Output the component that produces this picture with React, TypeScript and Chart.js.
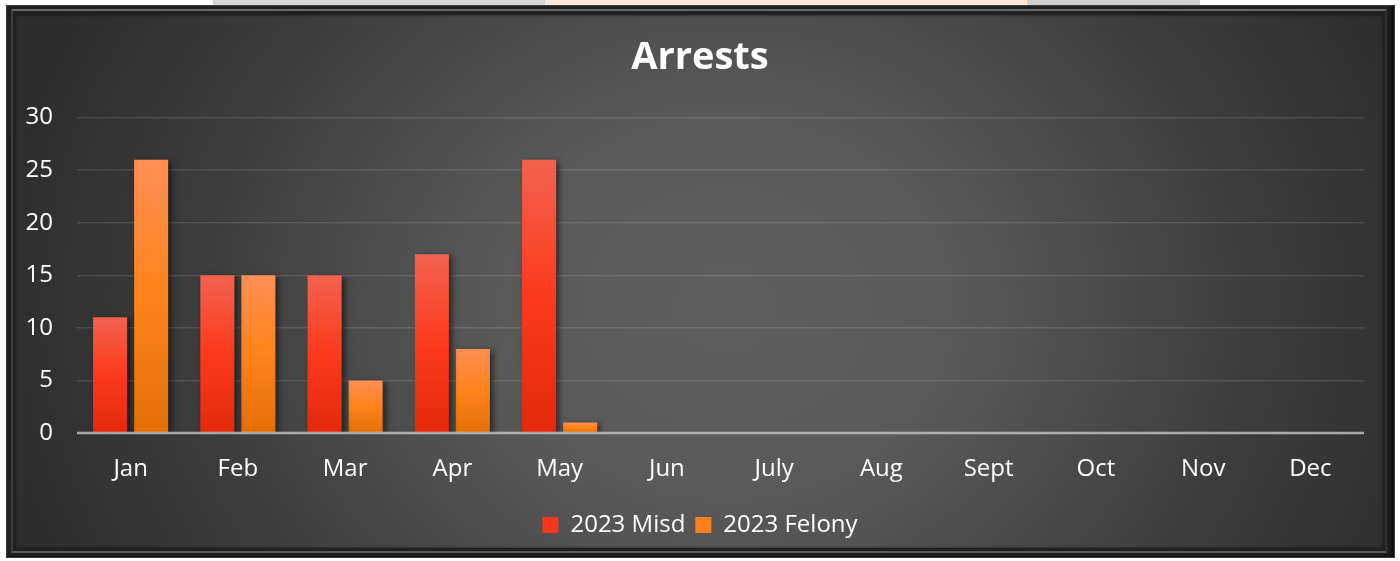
import React, { useEffect, useRef } from "react";
import { Chart, registerables } from "chart.js";

Chart.register(...registerables);

const categories = ["Jan", "Feb", "Mar", "Apr", "May", "Jun", "July", "Aug", "Sept", "Oct", "Nov", "Dec"];
const misdValues = [11, 15, 15, 17, 26, null, null, null, null, null, null, null];
const felonyValues = [26, 15, 5, 8, 1, null, null, null, null, null, null, null];
const seriesLabels = ["2023 Misd", "2023 Felony"];
const chartTitle = "Arrests";
const yMin = 0;
const yMax = 30;
const yStep = 5;

const FONT = "'Open Sans', sans-serif";
const misdStops = ["#f3624f", "#fc3a1c", "#e32a0b"];
const felonyStops = ["#ff8f55", "#ff8319", "#e36e08"];

function barGradient(stops: string[]) {
  return (ctx: any) => {
    const chart = ctx.chart;
    const y = chart.scales && chart.scales.y;
    if (!y || ctx.type !== "data" || !ctx.parsed || ctx.parsed.y == null) return stops[1];
    const top = y.getPixelForValue(ctx.parsed.y);
    const bottom = y.getPixelForValue(0);
    if (!isFinite(top) || !isFinite(bottom) || Math.abs(bottom - top) < 1) return stops[1];
    const g = chart.ctx.createLinearGradient(0, top, 0, bottom);
    g.addColorStop(0, stops[0]);
    g.addColorStop(0.5, stops[1]);
    g.addColorStop(1, stops[2]);
    return g;
  };
}

const shadowPlugin = {
  id: "barShadowAndZero",
  beforeDatasetsDraw(chart: any) {
    const c = chart.ctx;
    c.save();
    c.shadowColor = "rgba(0,0,0,0.55)";
    c.shadowBlur = 6;
    c.shadowOffsetX = 3;
    c.shadowOffsetY = 2;
  },
  afterDatasetsDraw(chart: any) {
    const c = chart.ctx;
    c.restore();
    const { chartArea, scales } = chart;
    const py = scales.y.getPixelForValue(0);
    c.save();
    c.strokeStyle = "rgba(205,205,205,0.75)";
    c.lineWidth = 2.5;
    c.beginPath();
    c.moveTo(chartArea.left, py);
    c.lineTo(chartArea.right, py);
    c.stroke();
    c.restore();
  },
};

export default function App() {
  const ref = useRef<HTMLCanvasElement>(null);

  useEffect(() => {
    if (!ref.current) return;
    const chart = new Chart(ref.current, {
      type: "bar",
      data: {
        labels: categories,
        datasets: [
          {
            label: seriesLabels[0],
            data: misdValues as any,
            backgroundColor: barGradient(misdStops) as any,
            borderWidth: 0,
            categoryPercentage: 0.765,
            barPercentage: 0.83,
          },
          {
            label: seriesLabels[1],
            data: felonyValues as any,
            backgroundColor: barGradient(felonyStops) as any,
            borderWidth: 0,
            categoryPercentage: 0.765,
            barPercentage: 0.83,
          },
        ],
      },
      options: {
        responsive: false,
        animation: false,
        devicePixelRatio: 1,
        layout: { padding: { top: 35, right: 0, bottom: 14, left: 0 } },
        plugins: {
          title: {
            display: true,
            text: chartTitle,
            color: "#ffffff",
            font: { family: FONT, size: 38, weight: "bold" },
            padding: { top: 0, bottom: 37 },
          },
          legend: {
            position: "bottom",
            labels: {
              color: "#ffffff",
              font: { family: FONT, size: 24 },
              boxWidth: 16,
              boxHeight: 16,
              padding: 10,
              generateLabels: () => [
                { text: seriesLabels[0], fillStyle: "#f5361a", strokeStyle: "rgba(0,0,0,0)", lineWidth: 0, fontColor: "#ffffff", datasetIndex: 0 } as any,
                { text: seriesLabels[1], fillStyle: "#fb8120", strokeStyle: "rgba(0,0,0,0)", lineWidth: 0, fontColor: "#ffffff", datasetIndex: 1 } as any,
              ],
            },
          },
          tooltip: { enabled: false },
        },
        scales: {
          x: {
            grid: { display: false, drawTicks: false },
            border: { display: false },
            ticks: { color: "#ffffff", font: { family: FONT, size: 24 }, padding: 22 },
            afterFit: (s: any) => {
              s.height = 70;
            },
          },
          y: {
            min: yMin,
            max: yMax,
            ticks: { stepSize: yStep, color: "#ffffff", font: { family: FONT, size: 24 }, padding: 24 },
            grid: {
              drawTicks: false,
              lineWidth: 1.5,
              color: (ctx: any) => (ctx.tick && ctx.tick.value === 0 ? "rgba(0,0,0,0)" : "rgba(255,255,255,0.11)"),
            },
            border: { display: false },
            afterFit: (s: any) => {
              s.width = 77;
            },
          },
          yRightSpacer: {
            type: "linear",
            position: "right",
            display: true,
            grid: { display: false, drawTicks: false },
            border: { display: false },
            ticks: { display: false },
            afterFit: (s: any) => {
              s.width = 36;
            },
          },
        },
      },
      plugins: [shadowPlugin],
    } as any);
    return () => chart.destroy();
  }, []);

  return (
    <div style={{ position: "fixed", left: 0, top: 0, width: 1400, height: 561, background: "#ffffff", overflow: "hidden" }}>
      <div style={{ position: "absolute", left: 213, top: 0, width: 340, height: 6, background: "#d6d6d6" }} />
      <div style={{ position: "absolute", left: 545, top: 0, width: 482, height: 6, background: "#fde7da" }} />
      <div style={{ position: "absolute", left: 1027, top: 0, width: 173, height: 6, background: "#d0d0d0" }} />
      <div
        style={{
          position: "absolute",
          left: 6,
          top: 5,
          width: 1389,
          height: 553,
          background: "#202020",
          boxShadow: "inset 0 0 0 1px #3c3c3c, inset -4px -2px 3px #0c0c0c",
        }}
      >
        <div
          style={{
            position: "absolute",
            left: 5,
            top: 4,
            right: 8,
            bottom: 5,
            borderTop: "2px solid #6a6a6a",
            borderLeft: "2px solid #3e3e3e",
            borderRight: "2px solid #2e2e2e",
            borderBottom: "2px solid #5a5a5a",
          }}
        />
        <div
          style={{
            position: "absolute",
            left: 9,
            top: 10,
            right: 12,
            bottom: 10,
            background:
              "radial-gradient(ellipse 55% 120% at 52% 55%, #5e5e5e 0%, #5a5a5a 30%, #3d3d3d 70%, #2c2c2c 100%)",
            boxShadow: "inset 0 0 3px rgba(0,0,0,0.6)",
          }}
        />
      </div>
      <canvas
        ref={ref}
        width={1400}
        height={561}
        style={{ position: "absolute", left: 0, top: 0, width: 1400, height: 561 }}
      />
    </div>
  );
}
